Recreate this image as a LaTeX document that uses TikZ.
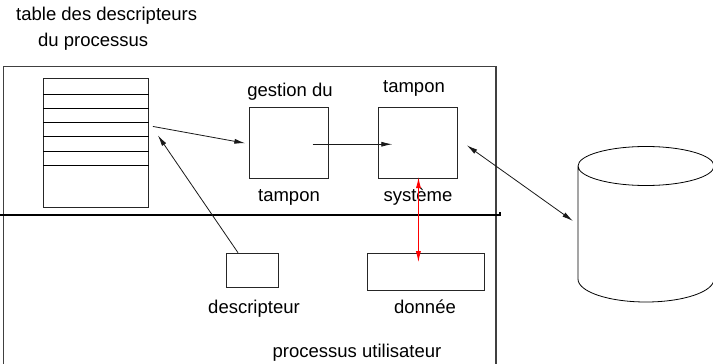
\documentclass[tikz,border=0pt]{standalone}
\usepackage{fontspec}
\setmainfont{Liberation Sans}
\usetikzlibrary{arrows.meta,calc}
\tikzset{
  box/.style={draw=black!85, line width=0.9pt, inner sep=0pt, anchor=north west},
  lbl/.style={inner sep=0pt, font=\fontsize{18.5}{20}\selectfont},
  conn/.style={draw=black!90, line width=0.8pt, -{Latex[length=11pt,width=5pt]}},
  biconn/.style={conn, {Latex[length=11pt,width=5pt]}-{Latex[length=11pt,width=5pt]}},
}
\begin{document}
\begin{tikzpicture}[x=1pt,y=-1pt]
\useasboundingbox (0,0) rectangle (713,364);

% process frame, open at the bottom
\draw[black!75, line width=1.1pt] (3.5,370) -- (3.5,66.5) -- (496,66.5) -- (496,370);
% kernel / user boundary
\draw[line width=2.6pt, line join=miter] (0,215) -- (500,215) -- (500,211.5);

% descriptor table
\node[box, minimum width=105pt, minimum height=129pt] (table) at (43,78) {};
\foreach \yy in {94.3,108.3,122.3,136.7,151,165.3}
  \draw[line width=0.9pt] (43,\yy) -- (149,\yy);

% buffer management and system buffer
\node[box, minimum width=78.5pt, minimum height=71pt] (gestion) at (249.3,107.3) {};
\node[box, minimum width=78.5pt, minimum height=71pt] (tampon) at (378.3,107.3) {};
% user side
\node[box, minimum width=51.5pt, minimum height=34pt] (descr) at (226,252.7) {};
\node[box, minimum width=117.5pt, minimum height=37.5pt] (donnee) at (366.7,252.7) {};

% disk
\draw[line width=0.8pt] (578,279) -- (578,166)
  (646,166) ellipse [x radius=68, y radius=19.5]
  (578,279) arc [start angle=180, end angle=0, x radius=68, y radius=23] -- (714,166);
\coordinate (disk) at (573,221);

% labels
\node[lbl, anchor=base west] (t1) at (16,20.7) {table des descripteurs};
\node[lbl, anchor=base west] (t2) at (38,46.7) {du processus};
\node[lbl, anchor=base] (g1) at (290,96) {gestion du};
\node[lbl, anchor=base] (g2) at (289,201) {tampon};
\node[lbl, anchor=base] (s1) at (414,92) {tampon};
\node[lbl, anchor=base] (s2) at (418,201) {système};
\node[lbl, anchor=base] (d1) at (254,313) {descripteur};
\node[lbl, anchor=base] (d2) at (425,313) {donnée};
\node[lbl, anchor=base] (p1) at (357,357) {processus utilisateur};

% connectors
\draw[conn] ($(table.east)+(4,-16.5)$) -- ($(gestion.west)+(-4,0)$);
\draw[conn] ($(descr.north west)+(12,0)$) -- ($(table.east)+(9,-7.5)$);
\draw[conn] ($(gestion.center)+(23.5,1)$) -- ($(tampon.west)+(14,1)$);
\draw[biconn] ($(tampon.east)+(9,2)$) -- (disk);
\draw[biconn, draw=red, fill=red] ($(tampon.south)+(0.5,-2)$) -- ($(donnee.north)+(-7.5,9.5)$);
\end{tikzpicture}
\end{document}
